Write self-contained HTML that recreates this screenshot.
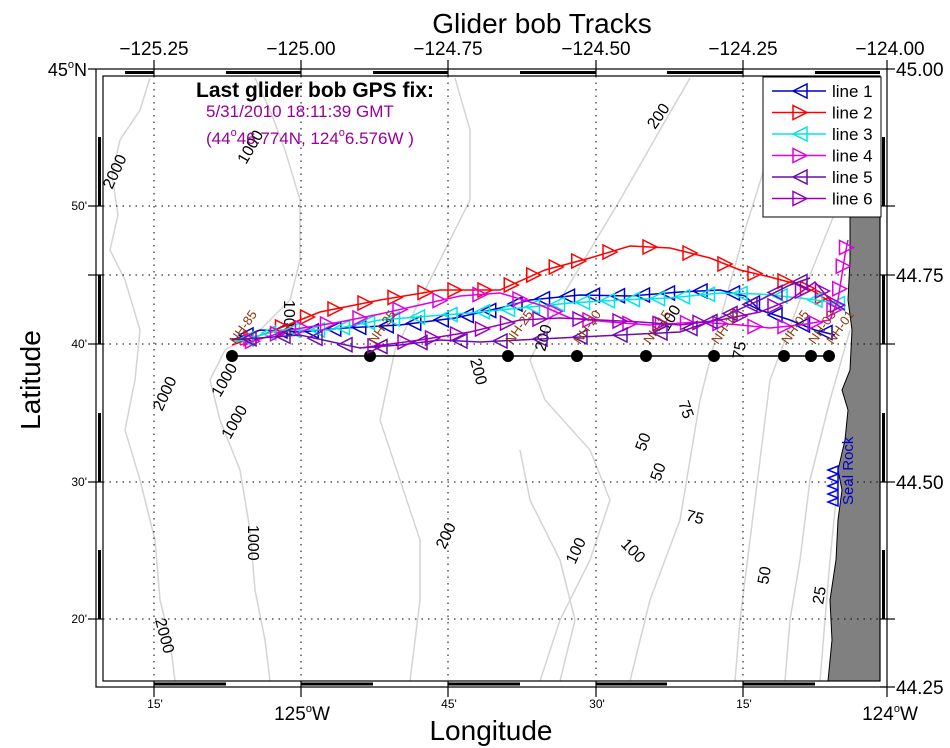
<!DOCTYPE html>
<html><head><meta charset="utf-8"><style>
html,body{margin:0;padding:0;background:#fff;}
svg{display:block;font-family:"Liberation Sans",Arial,sans-serif;}
</style></head><body>
<svg id="s" width="950" height="748" viewBox="0 0 950 748" xmlns="http://www.w3.org/2000/svg">
<rect width="950" height="748" fill="#fff"/>
<g fill="none" stroke="#d4d4d4" stroke-width="1.5">
<path d="M150,78 L140,110 L120,140 L112,175 L118,215 L110,250 L125,280 L140,330 L135,380 L125,430 L140,480 L155,540 L160,600 L170,640 L175,681"/>
<path d="M255,78 L270,110 L285,150 L300,200 L300,260 L290,300 L260,330 L225,350 L210,380 L220,420 L240,470 L250,530 L255,590 L265,640 L270,681"/>
<path d="M455,78 L470,130 L470,200 L430,280 L395,350 L380,420 L400,480 L420,540 L420,600 L410,681"/>
<path d="M690,78 L660,130 L620,200 L560,300 L530,360 L545,400 L590,450 L610,500 L590,560 L560,620 L540,681"/>
<path d="M800,78 L770,150 L745,230 L720,320 L700,400 L690,460 L680,520 L650,600 L630,681"/>
<path d="M840,200 L800,300 L770,380 L760,460 L750,540 L740,620 L735,681"/>
<path d="M850,330 L830,400 L810,480 L800,560 L790,620 L785,681"/>
<path d="M855,420 L838,480 L830,560 L825,620 L820,681"/>
<path d="M560,681 L575,620 L560,560 L530,500 L520,450"/>
</g>
<path d="M850,205 L880,205 L880,681 L828,681 L832,640 L830,600 L836,560 L838,520 L842,490 L838,470 L845,440 L848,410 L842,390 L850,370 L852,330 L848,300 L850,260 Z" fill="#808080" stroke="#000" stroke-width="1"/>
<g stroke="#000" stroke-width="1" stroke-dasharray="1.5,5">
<line x1="154" y1="76" x2="154" y2="681"/><line x1="301" y1="76" x2="301" y2="681"/>
<line x1="448" y1="76" x2="448" y2="681"/><line x1="596" y1="76" x2="596" y2="681"/>
<line x1="743" y1="76" x2="743" y2="681"/>
<line x1="103" y1="206" x2="880" y2="206"/><line x1="103" y1="275" x2="880" y2="275"/>
<line x1="103" y1="344" x2="880" y2="344"/><line x1="103" y1="482" x2="880" y2="482"/>
<line x1="103" y1="619" x2="880" y2="619"/>
</g>
<g font-size="16" fill="#000">
<text transform="translate(112,190) rotate(-65)">2000</text>
<text transform="translate(246,165) rotate(-60)">1000</text>
<text transform="translate(655,130) rotate(-55)">200</text>
<text transform="translate(284,300) rotate(90)">1000</text>
<text transform="translate(220,398) rotate(-60)">1000</text>
<text transform="translate(162,412) rotate(-65)">2000</text>
<text transform="translate(230,440) rotate(-60)">1000</text>
<text transform="translate(248,525) rotate(90)">1000</text>
<text transform="translate(155,620) rotate(75)">2000</text>
<text transform="translate(445,550) rotate(-65)">200</text>
<text transform="translate(575,565) rotate(-65)">100</text>
<text transform="translate(620,545) rotate(45)">100</text>
<text transform="translate(678,403) rotate(70)">75</text>
<text transform="translate(685,520) rotate(15)">75</text>
<text transform="translate(645,452) rotate(-70)">50</text>
<text transform="translate(660,482) rotate(-70)">50</text>
<text transform="translate(768,585) rotate(-80)">50</text>
<text transform="translate(823,605) rotate(-80)">25</text>
<text transform="translate(743,360) rotate(-80)">75</text>
<text transform="translate(545,352) rotate(-75)">200</text>
<text transform="translate(470,360) rotate(75)">200</text>
<text transform="translate(668,332) rotate(-60)">100</text>
</g>
<line x1="232" y1="356" x2="829" y2="356" stroke="#000" stroke-width="1.5"/>
<g fill="#000">
<circle cx="232" cy="356" r="6"/><circle cx="370" cy="356" r="6"/><circle cx="508" cy="356" r="6"/>
<circle cx="577" cy="356" r="6"/><circle cx="646" cy="356" r="6"/><circle cx="714" cy="356" r="6"/>
<circle cx="784" cy="356" r="6"/><circle cx="811" cy="356" r="6"/><circle cx="829" cy="356" r="6"/>
</g>
<g id="tracks"></g>
<g font-size="13" fill="#8b3a0a">
<text transform="translate(236,345) rotate(-55)">NH-85</text>
<text transform="translate(375,345) rotate(-55)">NH-35</text>
<text transform="translate(512,345) rotate(-55)">NH-25</text>
<text transform="translate(580,345) rotate(-55)">NH-20</text>
<text transform="translate(650,345) rotate(-55)">NH-15</text>
<text transform="translate(718,345) rotate(-55)">NH-10</text>
<text transform="translate(788,345) rotate(-55)">NH-05</text>
<text transform="translate(815,345) rotate(-55)">NH-03</text>
<text transform="translate(833,345) rotate(-55)">NH-01</text>
</g>
<text transform="translate(853,505) rotate(-90)" font-size="15" fill="#0000cc">Seal Rock</text>
<g fill="none" stroke="#0000ff" stroke-width="1.5">
<path d="M828,470 l10,-4 v8 z M828,478 l10,-4 v8 z M828,486 l10,-4 v8 z M828,494 l10,-4 v8 z M828,502 l10,-4 v8 z"/>
</g>
<g fill="none" stroke="#000" stroke-width="1.2">
<rect x="96" y="69" width="791" height="618"/>
<rect x="103" y="76" width="777" height="605"/>
</g>
<g stroke="#000" stroke-width="3">
<line x1="125" y1="72.5" x2="154" y2="72.5"/><line x1="226" y1="72.5" x2="301" y2="72.5"/>
<line x1="373" y1="72.5" x2="448" y2="72.5"/><line x1="520" y1="72.5" x2="596" y2="72.5"/>
<line x1="667" y1="72.5" x2="743" y2="72.5"/><line x1="815" y1="72.5" x2="880" y2="72.5"/>
<line x1="154" y1="684" x2="226" y2="684"/><line x1="301" y1="684" x2="373" y2="684"/>
<line x1="448" y1="684" x2="520" y2="684"/><line x1="596" y1="684" x2="667" y2="684"/>
<line x1="743" y1="684" x2="815" y2="684"/>
<line x1="99.5" y1="137" x2="99.5" y2="206"/><line x1="99.5" y1="275" x2="99.5" y2="344"/>
<line x1="99.5" y1="413" x2="99.5" y2="482"/><line x1="99.5" y1="550" x2="99.5" y2="619"/>
<line x1="883.5" y1="137" x2="883.5" y2="206"/><line x1="883.5" y1="275" x2="883.5" y2="344"/>
<line x1="883.5" y1="413" x2="883.5" y2="482"/><line x1="883.5" y1="550" x2="883.5" y2="619"/>
</g>
<g stroke="#000" stroke-width="1.2">
<line x1="154" y1="60" x2="154" y2="76"/><line x1="301" y1="60" x2="301" y2="76"/><line x1="448" y1="60" x2="448" y2="76"/>
<line x1="596" y1="60" x2="596" y2="76"/><line x1="743" y1="60" x2="743" y2="76"/><line x1="887" y1="60" x2="887" y2="69"/>
<line x1="154" y1="681" x2="154" y2="697"/><line x1="301" y1="681" x2="301" y2="697"/><line x1="448" y1="681" x2="448" y2="697"/>
<line x1="596" y1="681" x2="596" y2="697"/><line x1="743" y1="681" x2="743" y2="697"/><line x1="887" y1="687" x2="887" y2="697"/>
<line x1="88" y1="69" x2="96" y2="69"/><line x1="88" y1="206" x2="103" y2="206"/><line x1="88" y1="275" x2="103" y2="275"/>
<line x1="88" y1="344" x2="103" y2="344"/><line x1="88" y1="482" x2="103" y2="482"/><line x1="88" y1="619" x2="103" y2="619"/>
<line x1="880" y1="206" x2="895" y2="206"/><line x1="880" y1="275" x2="895" y2="275"/><line x1="880" y1="344" x2="895" y2="344"/>
<line x1="880" y1="482" x2="895" y2="482"/><line x1="880" y1="619" x2="895" y2="619"/><line x1="887" y1="69" x2="895" y2="69"/>
<line x1="880" y1="687" x2="895" y2="687"/>
</g>
<g font-size="19" fill="#000" text-anchor="middle">
<text x="154" y="55">−125.25</text><text x="301" y="55">−125.00</text><text x="448" y="55">−124.75</text>
<text x="596" y="55">−124.50</text><text x="743" y="55">−124.25</text><text x="890" y="55">−124.00</text>
</g>
<g font-size="19" fill="#000">
<text x="896" y="76">45.00</text><text x="896" y="282">44.75</text><text x="896" y="489">44.50</text><text x="896" y="694">44.25</text>
</g>
<g font-size="12" fill="#000" text-anchor="end">
<text x="87" y="210">50'</text><text x="87" y="348">40'</text><text x="87" y="486">30'</text><text x="87" y="623">20'</text>
</g>
<text x="87" y="76" font-size="18" text-anchor="end">45<tspan font-size="11" dy="-8">o</tspan><tspan dy="8">N</tspan></text>
<g font-size="12" fill="#000" text-anchor="middle">
<text x="155" y="708">15'</text><text x="449" y="708">45'</text><text x="597" y="708">30'</text><text x="744" y="708">15'</text>
</g>
<text x="302" y="720" font-size="19" text-anchor="middle">125<tspan font-size="11" dy="-8">o</tspan><tspan dy="8">W</tspan></text>
<text x="890" y="720" font-size="19" text-anchor="middle">124<tspan font-size="11" dy="-8">o</tspan><tspan dy="8">W</tspan></text>
<text x="491" y="740" font-size="28" text-anchor="middle">Longitude</text>
<text transform="translate(40,380) rotate(-90)" font-size="28" text-anchor="middle">Latitude</text>
<text x="542" y="33" font-size="28" text-anchor="middle">Glider bob Tracks</text>
<text x="196" y="97" font-size="21" font-weight="bold">Last glider bob GPS fix:</text>
<text x="206" y="117" font-size="17" fill="#990099">5/31/2010 18:11:39 GMT</text>
<text x="206" y="144" font-size="17" fill="#990099">(44<tspan font-size="11" dy="-8">o</tspan><tspan dy="8">46.774N, 124</tspan><tspan font-size="11" dy="-8">o</tspan><tspan dy="8">6.576W )</tspan></text>
<rect x="763" y="77" width="118" height="140" fill="#fff" stroke="#000" stroke-width="1"/>
<g id="leg" font-size="17" fill="#000"></g>
</svg>
<script>
var NS="http://www.w3.org/2000/svg";
function el(p,n,a){var e=document.createElementNS(NS,n);for(var k in a)e.setAttribute(k,a[k]);p.appendChild(e);return e;}
function tri(p,x,y,dir,c){var s=7;var d=dir<0?("M"+(x-s)+","+y+" L"+(x+s)+","+(y-s)+" L"+(x+s)+","+(y+s)+"Z"):("M"+(x+s)+","+y+" L"+(x-s)+","+(y-s)+" L"+(x-s)+","+(y+s)+"Z");el(p,"path",{d:d,fill:"none",stroke:c,"stroke-width":1.5});}
var T=[
["#0000cc",-1,[[232,340],[260,330],[300,332],[345,328],[400,325],[455,318],[500,308],[530,300],[580,295],[630,296],[680,292],[720,290],[745,296],[760,310],[790,320],[815,330],[835,335]]],
["#ff0000",1,[[232,345],[270,332],[320,312],[380,300],[440,290],[500,290],[545,270],[590,258],[630,246],[670,248],[710,258],[740,270],[770,277],[800,285],[815,292],[830,302]]],
["#00e5e5",-1,[[235,342],[280,330],[330,330],[380,320],[430,316],[470,313],[520,308],[570,303],[620,300],[670,298],[720,293],[760,294],[800,298],[830,302],[845,305]]],
["#e000e0",1,[[240,345],[290,330],[340,322],[380,314],[420,305],[460,296],[500,293],[540,305],[570,318],[610,322],[650,325],[700,322],[740,325],[770,328],[800,325],[830,320],[838,300],[845,255],[848,240]]],
["#6a0dad",-1,[[232,340],[300,335],[360,348],[400,345],[440,340],[480,342],[520,340],[560,338],[600,336],[640,334],[680,332],[720,318],[760,300],[790,285],[810,278]]],
["#9900bb",1,[[360,348],[420,340],[470,332],[520,320],[560,318],[600,320],[640,322],[680,325],[720,320],[760,312],[790,300],[815,282],[830,300],[845,310]]]];
var g=document.getElementById("tracks");
T.forEach(function(t){var pts=t[2];el(g,"polyline",{points:pts.map(function(p){return p.join(",")}).join(" "),fill:"none",stroke:t[0],"stroke-width":1.5});
for(var i=0;i<pts.length-1;i++){var a=pts[i],b=pts[i+1];var L=Math.hypot(b[0]-a[0],b[1]-a[1]);var n=Math.max(1,Math.round(L/28));for(var j=0;j<n;j++){var f=(j+0.5)/n;tri(g,a[0]+(b[0]-a[0])*f,a[1]+(b[1]-a[1])*f,t[1],t[0]);}}});
var lg=document.getElementById("leg");
T.forEach(function(t,i){var y=91+i*21.5;el(lg,"line",{x1:772,y1:y,x2:826,y2:y,stroke:t[0],"stroke-width":1.5});tri(lg,800,y,t[1],t[0]);var tx=el(lg,"text",{x:832,y:y+6});tx.textContent="line "+(i+1);});
</script>
</body></html>
